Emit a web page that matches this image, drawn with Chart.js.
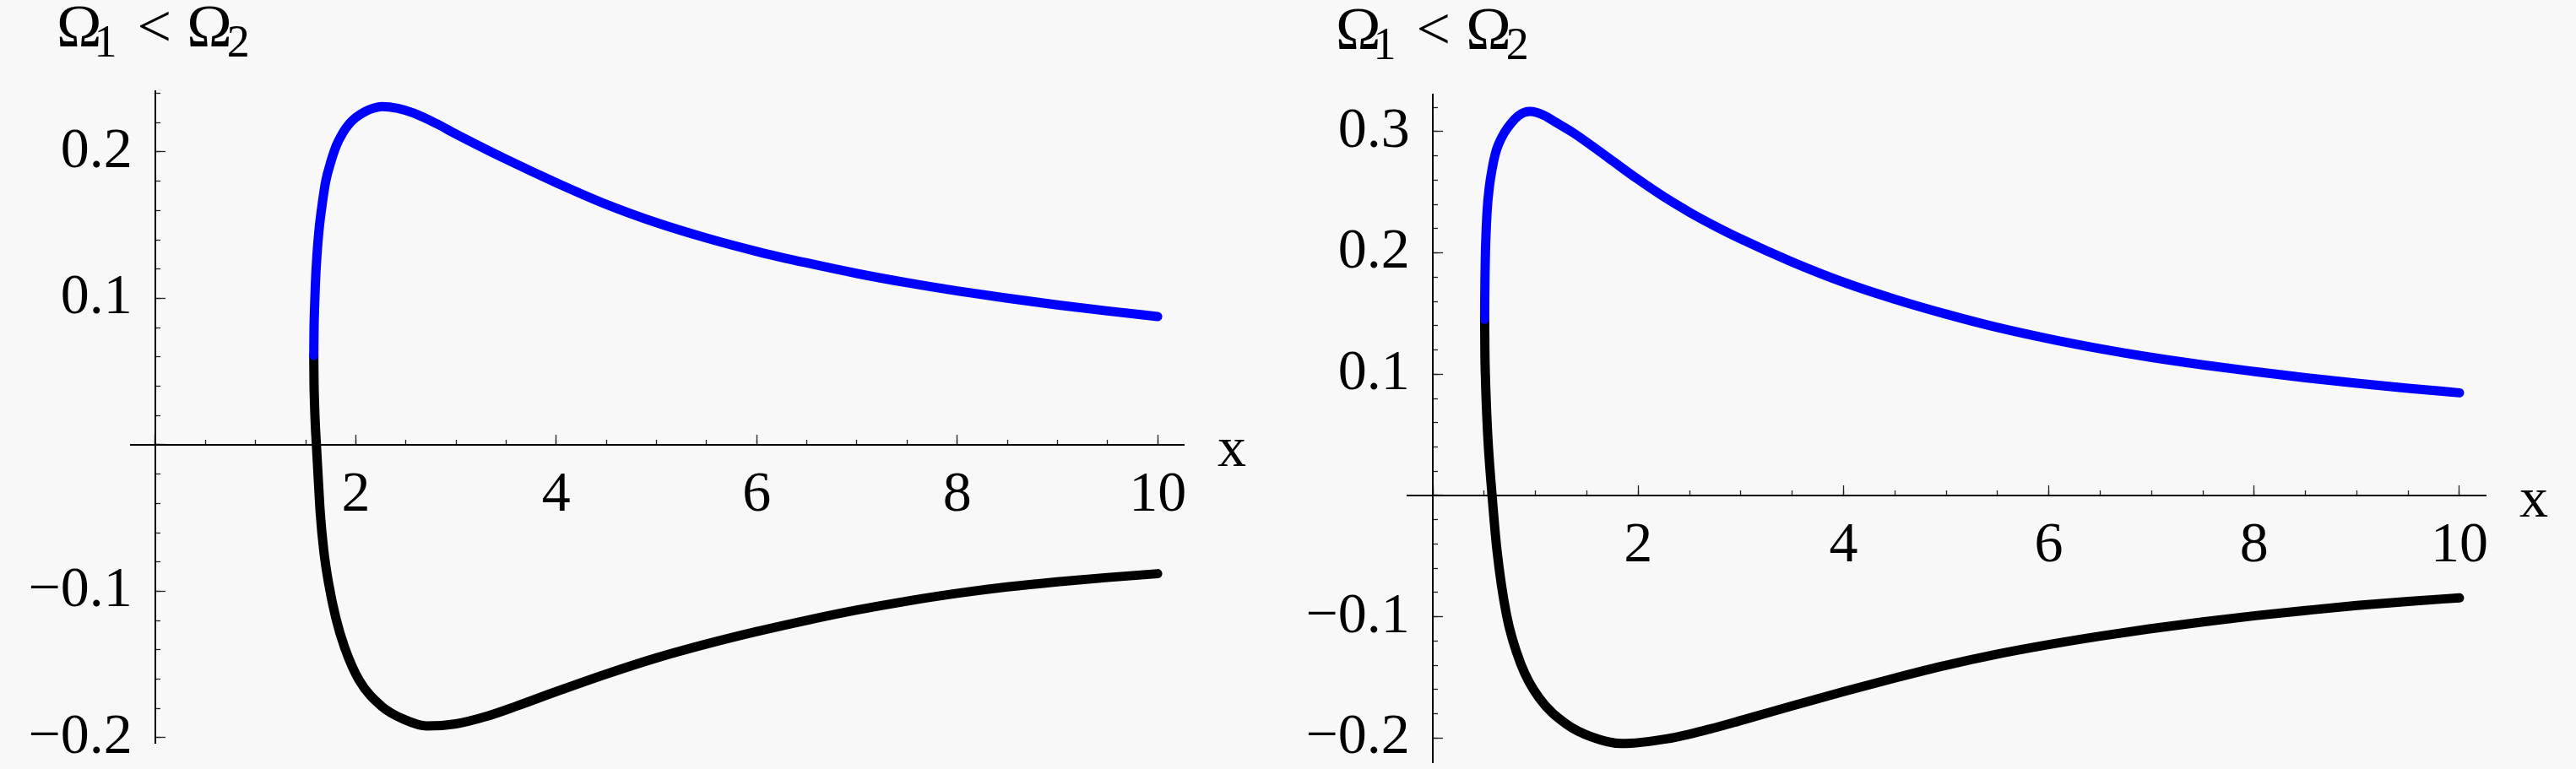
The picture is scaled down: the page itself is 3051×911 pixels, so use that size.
<!DOCTYPE html>
<html lang="en">
<head>
    <meta charset="UTF-8">
    <title>Omega1 &lt; Omega2</title>
    <script src="https://cdn.jsdelivr.net/npm/chart.js"></script>
    <style>
        body {
            margin: 0;
            width: 3051px;
            height: 911px;
            overflow: hidden;
            position: relative;
            background: #f8f8f8;
            font-family: 'Liberation Serif', 'Times New Roman', serif;
        }
        canvas { position: absolute; top: 0; }
        #leftChart { left: 0; }
        #rightChart { left: 1525px; }
        .title {
            position: absolute;
            font-size: 72px;
            line-height: 72px;
            white-space: nowrap;
            color: #000;
        }
        .title .sub { font-size: 54px; position: relative; top: 12px; }
    </style>
</head>
<body>

    <div class="title" style="left:67px; top:-5px">Ω<span class="sub" style="margin-left:-9px">1</span><span style="margin-left:24px">&lt;</span><span style="margin-left:18px">Ω</span><span class="sub" style="margin-left:-6px">2</span></div>
    <div class="title" style="left:1582px; top:-2px">Ω<span class="sub" style="margin-left:-9px">1</span><span style="margin-left:24px">&lt;</span><span style="margin-left:18px">Ω</span><span class="sub" style="margin-left:-6px">2</span></div>

    <canvas id="leftChart" width="1525" height="1000"></canvas>
    <canvas id="rightChart" width="1526" height="1000"></canvas>

    <script>
        // values
        var leftBlueX = [1.581, 1.583, 1.588, 1.597, 1.612, 1.632, 1.66, 1.70, 1.75, 1.807, 1.87, 1.936, 2.0, 2.098, 2.18, 2.259, 2.42, 2.58, 2.8, 3.0, 3.5, 4.0, 4.5, 5.0, 5.5, 6.0, 6.5, 7.0, 7.5, 8.0, 8.5, 9.0, 9.5, 10.0];
        var leftBlueY = [0.061, 0.077, 0.092, 0.11, 0.129, 0.146, 0.162, 0.18, 0.193, 0.2045, 0.213, 0.2193, 0.2235, 0.2278, 0.2300, 0.2310, 0.2297, 0.2264, 0.2195, 0.2122, 0.195, 0.179, 0.1642, 0.1517, 0.1412, 0.1321, 0.1242, 0.117, 0.1107, 0.1051, 0.1001, 0.0955, 0.0914, 0.0876];

        var leftBlackX = [1.581, 1.583, 1.588, 1.596, 1.607, 1.625, 1.646, 1.68, 1.726, 1.8, 1.888, 2.033, 2.259, 2.484, 2.71, 3.0, 3.3, 3.6, 4.0, 4.5, 5.0, 5.5, 6.0, 6.5, 7.0, 7.5, 8.0, 8.5, 9.0, 9.5, 10.0];
        var leftBlackY = [0.061, 0.044, 0.029, 0.014, 0.0, -0.0225, -0.047, -0.072, -0.0935, -0.118, -0.1383, -0.1607, -0.1786, -0.1876, -0.192, -0.1905, -0.1855, -0.1785, -0.1685, -0.1565, -0.1455, -0.136, -0.1275, -0.1198, -0.1128, -0.1067, -0.1014, -0.097, -0.0935, -0.0906, -0.088];

        var rightBlueX = [0.505, 0.506, 0.508, 0.512, 0.518, 0.53, 0.55, 0.577, 0.61, 0.64, 0.7, 0.766, 0.83, 0.892, 0.95, 1.08, 1.2, 1.364, 1.71, 2.0, 2.245, 2.5, 2.717, 3.0, 3.5, 4.01, 4.5, 5.0, 5.5, 6.01, 6.5, 6.98, 7.5, 8.01, 8.5, 9.0, 9.5, 10.0];
        var rightBlueY = [0.1452, 0.163, 0.18, 0.199, 0.215, 0.236, 0.254, 0.269, 0.282, 0.2895, 0.2995, 0.3072, 0.3128, 0.3158, 0.3165, 0.3135, 0.3075, 0.2992, 0.2783, 0.2605, 0.2465, 0.2335, 0.2235, 0.2115, 0.1925, 0.1755, 0.1618, 0.1495, 0.1385, 0.129, 0.121, 0.1141, 0.1077, 0.1021, 0.097, 0.0925, 0.0884, 0.0846];

        var rightBlackX = [0.505, 0.507, 0.513, 0.525, 0.54, 0.577, 0.624, 0.719, 0.86, 1.034, 1.3, 1.553, 1.836, 2.286, 2.7, 3.02, 3.5, 4.01, 4.5, 5.0, 5.5, 6.01, 6.5, 6.98, 7.5, 8.01, 8.5, 9.0, 9.5, 10.0];
        var rightBlackY = [0.1452, 0.12, 0.096, 0.067, 0.042, 0.0, -0.0446, -0.0989, -0.1395, -0.1667, -0.1884, -0.1992, -0.2045, -0.2005, -0.1925, -0.185, -0.1735, -0.1615, -0.1505, -0.14, -0.1308, -0.1228, -0.116, -0.11, -0.1042, -0.0991, -0.0948, -0.0907, -0.0873, -0.0844];

        var xTickLabels = [2, 4, 6, 8, 10];
        var leftYTickLabels = [-0.2, -0.1, 0.1, 0.2];
        var rightYTickLabels = [-0.2, -0.1, 0.1, 0.2, 0.3];

        Chart.defaults.font.family = "'Liberation Serif', 'Times New Roman', serif";
        Chart.defaults.color = '#000';

        function points(xs, ys) {
            return xs.map(function (x, i) { return {x: x, y: ys[i]}; });
        }

        // label only the listed values, the rest stay as bare tick marks
        function labelFor(list, tail) {
            return function (value) {
                for (var i = 0; i < list.length; i++) {
                    if (Math.abs(list[i] - value) < 1e-9) {
                        var s = String(Math.abs(list[i]));
                        return (list[i] < 0 ? '\u2212' + s : s) + tail;
                    }
                }
                return '';
            };
        }

        // ticks on whole multiples of step, whatever the axis range is
        function ticksEvery(step) {
            return function (scale) {
                var t = [];
                for (var k = Math.ceil(scale.min / step - 1e-9); k * step <= scale.max + 1e-9; k++) {
                    t.push({value: Math.round(k * step * 1000) / 1000});
                }
                scale.ticks = t;
            };
        }

        // the "x" at the end of the horizontal axis
        var xLabelPlugin = {
            id: 'xLabel',
            afterDraw: function (chart) {
                var ctx = chart.ctx;
                var xs = chart.scales.x, ys = chart.scales.y;
                ctx.save();
                ctx.font = "68px 'Liberation Serif', serif";
                ctx.fillStyle = '#000';
                ctx.textBaseline = 'alphabetic';
                ctx.fillText('x', xs.right + 40, ys.getPixelForValue(0) + 25);
                ctx.restore();
            }
        };

        function tickGrid(len) {
            return {
                display: true,
                drawOnChartArea: false,
                drawTicks: true,
                tickLength: len,
                tickWidth: 1.3,
                tickColor: '#222'
            };
        }

        function makeChart(id, blueX, blueY, blackX, blackY, yLabels, xr, yr, pad) {
            var ctx = document.getElementById(id).getContext('2d');
            return new Chart(ctx, {
                type: 'scatter',
                data: {
                    datasets: [
                        {
                            data: points(blueX, blueY),
                            borderColor: '#0000ff',
                            backgroundColor: '#0000ff'
                        },
                        {
                            data: points(blackX, blackY),
                            borderColor: '#000000',
                            backgroundColor: '#000000'
                        }
                    ]
                },
                options: {
                    responsive: false,
                    animation: false,
                    devicePixelRatio: 1,
                    layout: {padding: pad},
                    plugins: {legend: {display: false}, tooltip: {enabled: false}},
                    elements: {
                        point: {radius: 0},
                        line: {borderWidth: 11, borderCapStyle: 'round', borderJoinStyle: 'round', cubicInterpolationMode: 'monotone'}
                    },
                    datasets: {scatter: {showLine: true}},
                    scales: {
                        x: {
                            type: 'linear', min: xr[0], max: xr[1], bounds: 'data',
                            position: {y: 0},
                            grid: tickGrid(-7),
                            border: {display: true, color: '#000', width: 2},
                            afterBuildTicks: ticksEvery(0.5),
                            ticks: {autoSkip: false, maxRotation: 0, padding: 26, font: {size: 68},
                                callback: labelFor(xTickLabels, '')}
                        },
                        xMajor: {
                            type: 'linear', axis: 'x', min: xr[0], max: xr[1], bounds: 'data',
                            position: {y: 0},
                            grid: tickGrid(-12),
                            border: {display: false},
                            afterBuildTicks: ticksEvery(2),
                            ticks: {display: false}
                        },
                        y: {
                            type: 'linear', min: yr[0], max: yr[1], bounds: 'data',
                            position: {x: 0},
                            grid: tickGrid(-7),
                            border: {display: true, color: '#000', width: 2},
                            afterBuildTicks: ticksEvery(0.02),
                            ticks: {autoSkip: false, font: {size: 68},
                                callback: labelFor(yLabels, '\u2009\u2009')}
                        },
                        yMajor: {
                            type: 'linear', axis: 'y', min: yr[0], max: yr[1], bounds: 'data',
                            position: {x: 0},
                            grid: tickGrid(-12),
                            border: {display: false},
                            afterBuildTicks: ticksEvery(0.1),
                            ticks: {display: false}
                        }
                    }
                },
                plugins: [xLabelPlugin]
            });
        }

        makeChart('leftChart', leftBlueX, leftBlueY, leftBlackX, leftBlackY, leftYTickLabels,
            [-0.244, 10.26], [-0.2035, 0.2415], {left: 155, right: 123, top: 108, bottom: 120});
        makeChart('rightChart', rightBlueX, rightBlueY, rightBlackX, rightBlackY, rightYTickLabels,
            [-0.247, 10.255], [-0.2199, 0.3305], {left: 142, right: 107, top: 112, bottom: 97});
    </script>
</body>
</html>
